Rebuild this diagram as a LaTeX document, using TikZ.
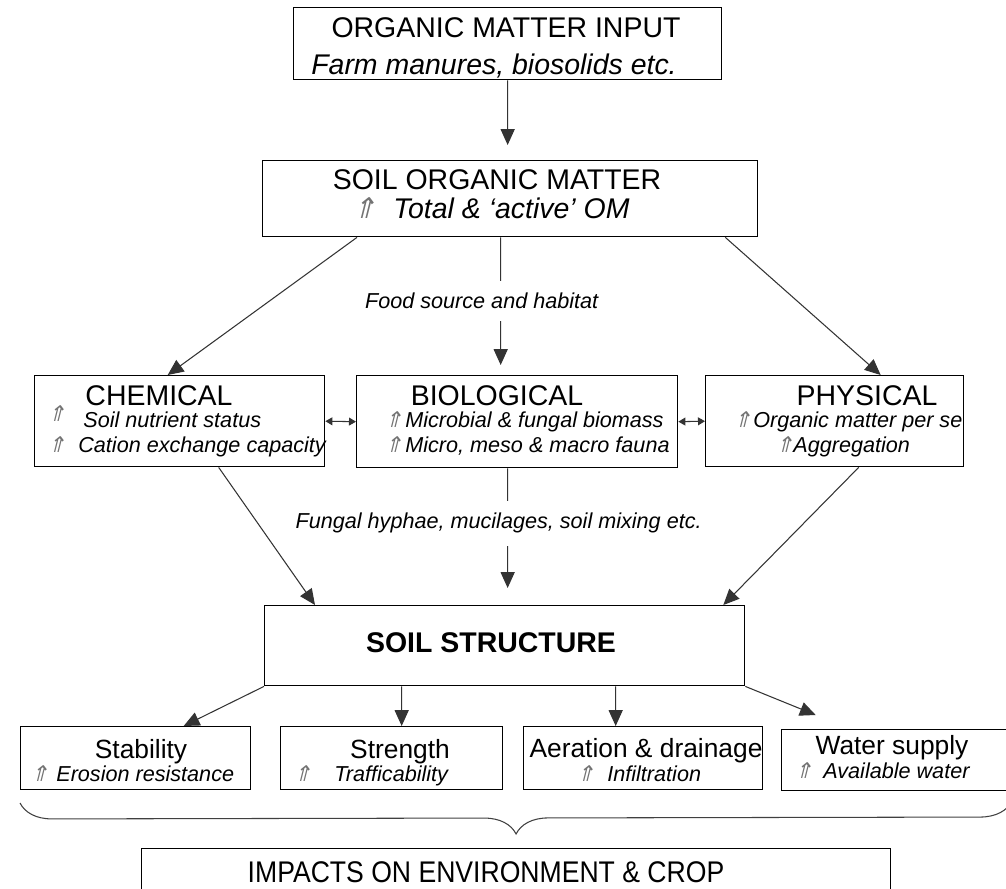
\documentclass[tikz,border=0pt]{standalone}
\usepackage{fontspec}
\setmainfont{Liberation Sans}
\newfontfamily\arrfont{DejaVu Sans}[FakeSlant=0.25]
\newfontfamily\narrowfont{Liberation Sans}[FakeStretch=0.89]
\usepackage{tikz}
\usetikzlibrary{positioning,arrows.meta,decorations.pathreplacing}
\usepackage{xcolor}

\newcommand{\incr}{{\arrfont\upshape\textcolor{black!55}{⇑}}}
\newcommand{\incrbox}[1]{\makebox[#1][l]{\incr}}

\tikzset{
  box/.style={draw, line width=0.8pt, anchor=north west, inner sep=0pt},
  ttl/.style={anchor=base, inner sep=0pt, font=\fontsize{16.2}{19}\selectfont},
  ttli/.style={ttl, font=\fontsize{16.2}{19}\selectfont\itshape},
  sub/.style={anchor=base west, inner sep=0pt, font=\fontsize{12.3}{14}\selectfont\itshape},
  btl/.style={anchor=base, inner sep=0pt, font=\fontsize{15}{18}\selectfont},
  arr/.style={draw=black!80, line width=0.6pt, -{Triangle[length=9pt,width=8pt]}},
  dbl/.style={draw=black!80, line width=0.6pt, {Triangle[length=4pt,width=4.5pt]}-{Triangle[length=4pt,width=4.5pt]}},
  lbl/.style={fill=white, inner ysep=7pt, font=\fontsize{12.3}{14}\selectfont\itshape}
}

\begin{document}
\begin{tikzpicture}[x=0.02cm,y=-0.02cm]
\useasboundingbox (0,0) rectangle (1006,888);

% boxes
\node[box, minimum width=8.56cm, minimum height=1.44cm] (input) at (293,7) {};
\node[box, minimum width=9.90cm, minimum height=1.52cm] (som) at (262,160) {};
\node[box, minimum width=5.80cm, minimum height=1.82cm] (chem) at (34,375) {};
\node[box, minimum width=6.42cm, minimum height=1.84cm] (bio) at (356,375) {};
\node[box, minimum width=5.16cm, minimum height=1.82cm] (phys) at (705,375) {};
\node[box, minimum width=9.60cm, minimum height=1.60cm] (ss) at (264,605) {};
\node[box, minimum width=4.60cm, minimum height=1.26cm] (stab) at (20,726) {};
\node[box, minimum width=4.44cm, minimum height=1.26cm] (strg) at (280,726) {};
\node[box, minimum width=4.78cm, minimum height=1.26cm] (aer) at (523,726) {};
\node[box, minimum width=4.78cm, minimum height=1.22cm] (wat) at (781,729) {};
\node[box, minimum width=14.98cm, minimum height=1.24cm] (imp) at (141,848) {};

% texts
\node[ttl] (inputa) at (506,38) {ORGANIC MATTER INPUT};
\node[ttli] (inputb) at (494,75) {Farm manures, biosolids etc.};
\node[ttl] (soma) at (497,190) {SOIL ORGANIC MATTER};
\node[ttli, anchor=base west] (somb) at (352,219) {\incrbox{0.82cm}Total \& ‘active’ OM};

\node[ttl] (chema) at (159,405) {CHEMICAL};
\node[sub] (chemb) at (47,427) {\makebox[0.72cm][l]{\raisebox{3pt}{\incr}}Soil nutrient status};
\node[sub] (chemc) at (47,452) {\incrbox{0.62cm}Cation exchange capacity};

\node[ttl] (bioa) at (497,405) {BIOLOGICAL};
\node[sub] (biob) at (384,427) {\incrbox{0.42cm}Microbial \& fungal biomass};
\node[sub] (bioc) at (384,452) {\incrbox{0.42cm}Micro, meso \& macro fauna};

\node[ttl] (physa) at (867,405) {PHYSICAL};
\node[sub] (physb) at (733,427) {\incrbox{0.4cm}Organic matter per se};
\node[sub] (physc) at (775,452) {\incrbox{0.36cm}Aggregation};

\node[ttl, font=\fontsize{16.2}{19}\selectfont\bfseries] (ssa) at (491,652) {SOIL STRUCTURE};

\node[btl] (staba) at (141,758) {Stability};
\node[sub] (stabb) at (30,781) {\incrbox{0.52cm}Erosion resistance};
\node[btl] (strga) at (400,758) {Strength};
\node[sub] (strgb) at (293,781) {\incrbox{0.82cm}Trafficability};
\node[btl] (aera) at (646,757) {Aeration \& drainage};
\node[sub] (aerb) at (576,781) {\incrbox{0.62cm}Infiltration};
\node[btl] (wata) at (892,754) {Water supply};
\node[sub] (watb) at (794,778) {\incrbox{0.58cm}Available water};

\node[ttl, font=\fontsize{17}{20}\narrowfont] (impa) at (486,882) {IMPACTS ON ENVIRONMENT \& CROP};

% connectors
\draw[arr] (input.south) -- ([xshift=-0.05cm,yshift=0.3cm]som.north);
\draw[arr] ([xshift=1.9cm]som.south west) -- ([xshift=-0.24cm]chem.north);
\draw[arr] ([xshift=-0.66cm]som.south east) -- ([xshift=0.92cm]phys.north);
\draw[arr] ([xshift=-0.19cm]som.south) -- node[lbl, xshift=-0.38cm]{Food source and habitat} ([xshift=-0.33cm,yshift=0.2cm]bio.north);

\draw[dbl] (chem.east) -- (bio.west);
\draw[dbl] (bio.east) -- (phys.west);

\draw[arr] ([xshift=-0.19cm]bio.south) -- node[lbl, xshift=-0.18cm, yshift=0.1cm]{Fungal hyphae, mucilages, soil mixing etc.} ([xshift=0.06cm,yshift=0.34cm]ss.north);
\draw[arr] ([xshift=0.78cm]chem.south) -- ([xshift=1.02cm]ss.north west);
\draw[arr] ([xshift=0.48cm]phys.south) -- ([xshift=-0.44cm]ss.north east);

\draw[arr] (ss.south west) -- ([xshift=0.96cm]stab.north);
\draw[arr] ([xshift=-2.06cm]ss.south) -- ([xshift=0.2cm]strg.north);
\draw[arr] ([xshift=2.22cm]ss.south) -- ([xshift=-0.55cm]aer.north);
\draw[arr] (ss.south east) -- ([xshift=-1.71cm,yshift=0.28cm]wat.north);

% brace
\coordinate (bra) at (20,803);
\coordinate (brb) at (1012,801);
\draw[draw=black!75, line width=0.6pt, decorate, decoration={brace, amplitude=0.64cm}] (brb) -- (bra);
\end{tikzpicture}
\end{document}
